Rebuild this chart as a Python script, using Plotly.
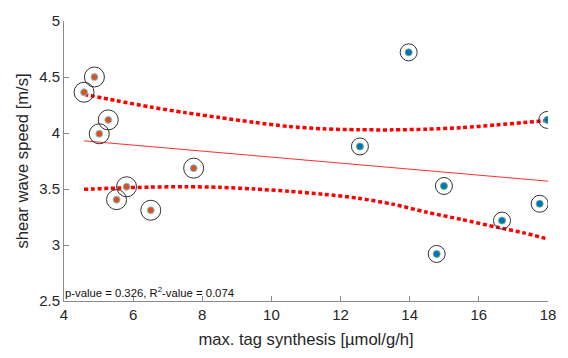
import plotly.graph_objects as go

# Group 1 (orange)
x_orange = [4.58, 4.88, 5.28, 5.02, 5.81, 5.52, 6.51, 7.75]
y_orange = [4.364, 4.50, 4.117, 3.993, 3.52, 3.405, 3.31, 3.686]

# Group 2 (blue)
x_blue = [12.56, 13.97, 17.98, 14.99, 17.76, 16.67, 14.78]
y_blue = [3.88, 4.72, 4.117, 3.527, 3.368, 3.218, 2.92]

# Linear fit line (read endpoints)
x_fit = [4.58, 18.0]
y_fit = [3.93, 3.57]

# Confidence bounds
x_upper = [4.58, 5.5, 6.5, 7.5, 8.5, 9.5, 10.5, 11.5, 12.5, 13.5, 14.5, 15.5, 16.5, 17.3, 18.0]
y_upper = [4.345, 4.29, 4.232, 4.182, 4.138, 4.095, 4.058, 4.037, 4.029, 4.028, 4.034, 4.048, 4.072, 4.093, 4.113]
x_lower = [4.58, 5.5, 6.5, 7.5, 8.5, 9.5, 10.5, 11.5, 12.5, 13.5, 14.5, 15.5, 16.5, 17.3, 18.0]
y_lower = [3.497, 3.508, 3.517, 3.52, 3.515, 3.50, 3.48, 3.453, 3.418, 3.365, 3.292, 3.228, 3.16, 3.108, 3.053]

x_ticks = [4, 6, 8, 10, 12, 14, 16, 18]
y_ticks = [2.5, 3, 3.5, 4, 4.5, 5]
y_tick_labels = ["2.5", "3", "3.5", "4", "4.5", "5"]

font_family = "Liberation Sans, Arial, sans-serif"
tc = "#262626"

fig = go.Figure()

for xs, ys in ((x_upper, y_upper), (x_lower, y_lower)):
    fig.add_trace(go.Scatter(x=xs, y=ys, mode="lines",
                             line=dict(color="#ff0000", width=3.5, dash="4px,2.7px",
                                       shape="spline", smoothing=0.8),
                             hoverinfo="skip", showlegend=False))
fig.add_trace(go.Scatter(x=x_fit, y=y_fit, mode="lines",
                         line=dict(color="#ff3030", width=1),
                         hoverinfo="skip", showlegend=False))

# outer open circles
fig.add_trace(go.Scatter(x=x_orange, y=y_orange, mode="markers",
                         marker=dict(symbol="circle-open", size=20, color="#333333", line=dict(width=1)),
                         showlegend=False))
fig.add_trace(go.Scatter(x=x_blue, y=y_blue, mode="markers",
                         marker=dict(symbol="circle-open", size=17, color="#333333", line=dict(width=1)),
                         showlegend=False))
# inner filled dots
fig.add_trace(go.Scatter(x=x_orange, y=y_orange, mode="markers",
                         marker=dict(symbol="circle", size=7, color="#D95319",
                                     line=dict(color="#7FC8E8", width=1)),
                         showlegend=False))
fig.add_trace(go.Scatter(x=x_blue, y=y_blue, mode="markers",
                         marker=dict(symbol="circle", size=7, color="#0072BD",
                                     line=dict(color="#6FB07A", width=1)),
                         showlegend=False))

fig.add_annotation(x=0, y=0, xref="paper", yref="paper", xanchor="left", yanchor="bottom",
                   text="p-value = 0.326, R<sup>2</sup>-value = 0.074", showarrow=False,
                   font=dict(family=font_family, size=11.3, color="#111111"), xshift=-1, yshift=0)

axis_common = dict(showgrid=False, zeroline=False, showline=True, linecolor="#8a8a8a",
                   linewidth=1, ticks="inside", ticklen=5, tickcolor="#8a8a8a",
                   tickfont=dict(family=font_family, size=15, color=tc), mirror=False)

fig.update_xaxes(range=[4, 18], tickvals=x_ticks, **axis_common,
                 title=dict(text="max. tag synthesis [µmol/g/h]", font=dict(family=font_family, size=16.6, color=tc), standoff=11))
fig.update_yaxes(range=[2.5, 5], tickvals=y_ticks, ticktext=y_tick_labels, **axis_common,
                 title=dict(text="shear wave speed [m/s]", font=dict(family=font_family, size=16.6, color=tc), standoff=6))

fig.update_layout(width=568, height=358, margin=dict(l=64, r=18, t=13, b=57),
                  plot_bgcolor="white", paper_bgcolor="white")

fig.write_html("out.html")
